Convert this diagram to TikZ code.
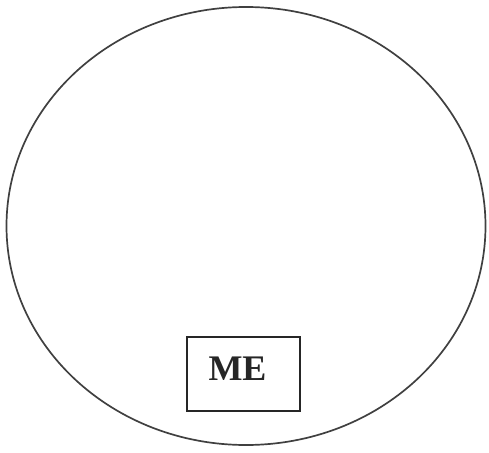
\documentclass[tikz,border=0pt]{standalone}
\usepackage{fontspec}
\setmainfont{Liberation Serif}
\begin{document}
\begin{tikzpicture}[x=1pt,y=-1pt,
  outline/.style={draw=black!75,line width=1.7pt},
  labelbox/.style={draw=black!85,line width=1.7pt}]
\useasboundingbox (0,0) rectangle (489,452);
\draw[outline] (246,226) ellipse [x radius=239.5, y radius=219];
\draw[labelbox] (187,337) rectangle (300,411);
\node[font=\fontsize{36}{40}\selectfont\bfseries, text=black!85] (me) at (237.5,369) {ME};
\end{tikzpicture}
\end{document}
